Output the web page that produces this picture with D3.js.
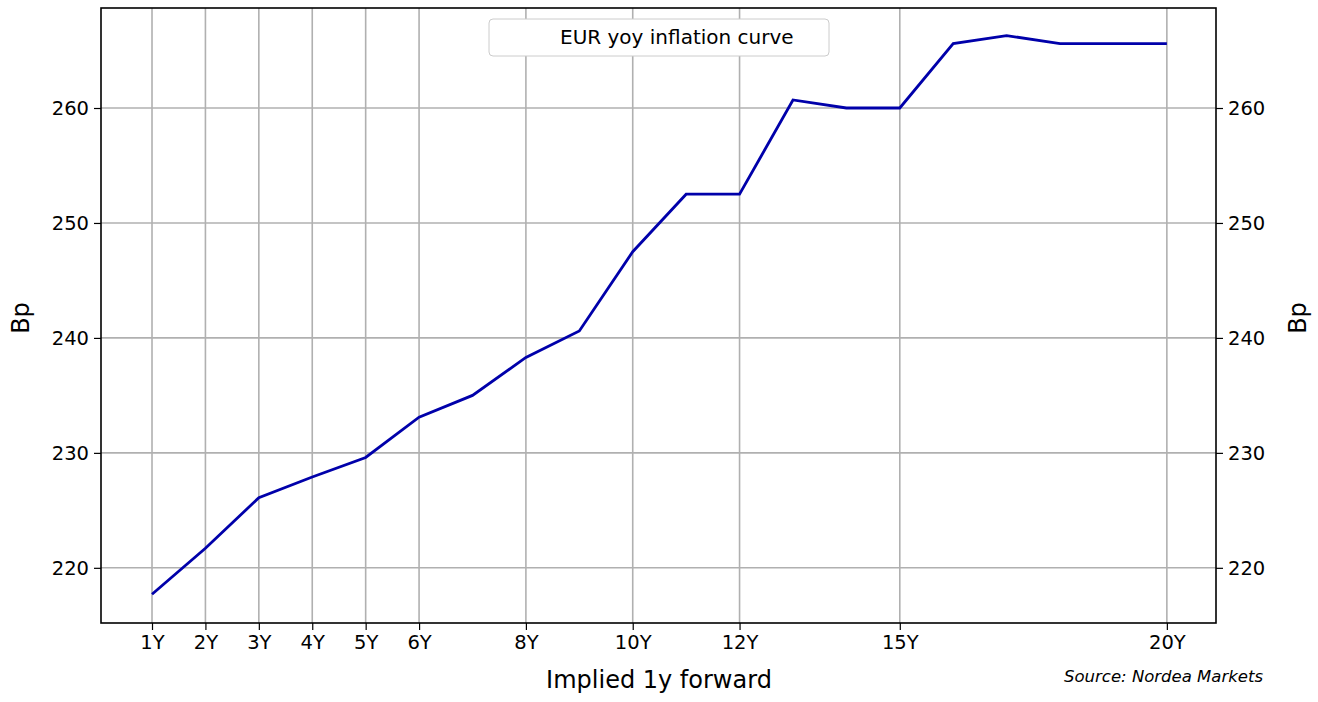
<!DOCTYPE html>
<html><head><meta charset="utf-8">
<script src="https://cdn.jsdelivr.net/npm/d3@7"></script>
<style>body{margin:0;background:#fff;font-family:"DejaVu Sans",sans-serif}</style>
</head><body><svg id="chart" width="1318" height="702"></svg>
<script>
// values
var years = [1,2,3,4,5,6,7,8,9,10,11,12,13,14,15,16,17,18,19,20]
var bp = [217.7,221.7,226.1,227.9,229.6,233.1,235.0,238.3,240.6,247.5,252.5,252.5,260.7,260.0,260.0,265.6,266.3,265.6,265.6,265.6]
var xTicks = [1,2,3,4,5,6,8,10,12,15,20]
var yTicks = [220,230,240,250,260]

var svg = d3.select('#chart')
var m = {left: 101, right: 102, top: 8, bottom: 79}
var w = 1318 - m.left - m.right, h = 702 - m.top - m.bottom
var g = svg.append('g').attr('transform', 'translate(' + m.left + ',' + m.top + ')')

var x = d3.scaleLinear().domain([0.045, 20.92]).range([0, w])
var y = d3.scaleLinear().domain([215.2, 268.7]).range([h, 0])

// grid
g.selectAll('.vg').data(xTicks).enter().append('line')
  .attr('x1', d => x(d)).attr('x2', d => x(d)).attr('y1', 0).attr('y2', h)
  .attr('stroke', '#b0b0b0').attr('stroke-width', 1.6)
g.selectAll('.hg').data(yTicks).enter().append('line')
  .attr('x1', 0).attr('x2', w).attr('y1', d => y(d)).attr('y2', d => y(d))
  .attr('stroke', '#b0b0b0').attr('stroke-width', 1.6)

var xa = g.append('g').attr('transform', 'translate(0,' + h + ')')
  .call(d3.axisBottom(x).tickValues(xTicks).tickFormat(d => d + 'Y').tickSize(7).tickPadding(5))
var yl = g.append('g').call(d3.axisLeft(y).tickValues(yTicks).tickSize(7).tickPadding(5))
var yr = g.append('g').attr('transform', 'translate(' + w + ',0)')
  .call(d3.axisRight(y).tickValues(yTicks).tickSize(7).tickPadding(5))
;[xa, yl, yr].forEach(a => {
  a.select('.domain').remove()
  a.selectAll('text').attr('font-size', 19.5).attr('font-family', 'DejaVu Sans').attr('fill', '#000')
  a.selectAll('line').attr('stroke', '#000').attr('stroke-width', 1.2)
})

g.append('path').datum(years)
  .attr('d', d3.line().x(d => x(d)).y((d, i) => y(bp[i])))
  .attr('fill', 'none').attr('stroke', '#0000aa').attr('stroke-width', 2.8)

g.append('rect').attr('width', w).attr('height', h).attr('fill', 'none').attr('stroke', '#000').attr('stroke-width', 1.6)

// legend
g.append('rect').attr('x', 388).attr('y', 11).attr('width', 340).attr('height', 37).attr('rx', 4)
  .attr('fill', '#fff').attr('stroke', '#ccc')
g.append('text').attr('x', 459).attr('y', 36).attr('font-size', 20).text('EUR yoy inflation curve')

svg.append('text').attr('x', 659).attr('y', 688).attr('text-anchor', 'middle').attr('font-size', 24).text('Implied 1y forward')
svg.append('text').attr('transform', 'translate(29,318) rotate(-90)').attr('text-anchor', 'middle').attr('font-size', 24).text('Bp')
svg.append('text').attr('transform', 'translate(1306,318) rotate(-90)').attr('text-anchor', 'middle').attr('font-size', 24).text('Bp')
svg.append('text').attr('x', 1263).attr('y', 682).attr('text-anchor', 'end').attr('font-size', 16.5).attr('font-style', 'italic').text('Source: Nordea Markets')
</script></body></html>
